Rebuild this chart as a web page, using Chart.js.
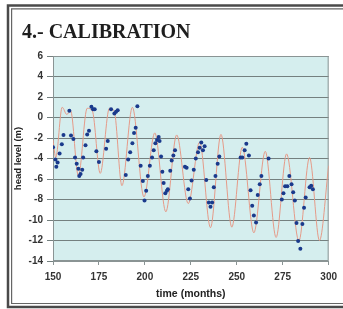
<!DOCTYPE html>
<html>
<head>
<meta charset="utf-8">
<script src="https://cdn.jsdelivr.net/npm/chart.js@4/dist/chart.umd.min.js"></script>
<style>
  html, body { margin: 0; padding: 0; background: #fff; }
  #wrap { width: 343px; height: 309px; position: relative; }
</style>
</head>
<body>
<div id="wrap"><canvas id="calChart"></canvas></div>
<script>
// simulated head (model line)
const modelMonths = [150, 151.5, 155, 157.5, 159.6, 163.8, 168.6, 171.4, 175.7, 180.7, 183.4, 187.5,
  193.2, 199.5, 205.4, 211.4, 217.3, 223.6, 229.8, 235.7, 241.4, 247.3, 253, 259.3,
  265.5, 271.4, 277.1, 283.8, 289.6, 295, 300];
const modelHead = [-2.2, -3.9, 1.0, 0.3, 0.65, -5.7, 0.9, 0.65, -5.45, 0.9, 0.55, -6.65,
  1.0, -7.75, -1.5, -9.2, -1.7, -8.4, -2.4, -10.75, -1.65, -10.7, -2.9, -11.25,
  -3.3, -11.7, -3.55, -12.05, -3.9, -12.0, -4.7];

// observed head (dots)
const obsMonths = [150, 151.3, 151.8, 152.5, 153.6, 154.8, 155.7, 158.9, 159.8, 161.1, 162, 162.9,
  163.8, 164.3, 165, 165.9, 166.4, 167.7, 168.6, 169.6, 170.9, 171.8, 172.7, 173.6, 175,
  178.9, 179.8, 181.6, 183.4, 184.3, 185.2, 189.6, 190.9, 192, 193.2, 194.1, 195, 195.9,
  197.7, 198.9, 199.8, 200.7, 201.6, 202.7, 203.9, 204.8, 205.7, 206.6, 207.5, 208,
  208.8, 209.5, 210.2, 211.1, 212, 212.5, 213.8, 214.6, 215.5, 216.4, 221.8, 222.7,
  223.6, 224.5, 225.4, 226.6, 227.7, 228.9, 229.8, 230.7, 231.6, 232.5, 233.4, 234.8,
  235.7, 236.6, 237.5, 238.4, 239.6, 240.5, 252.1, 253, 254.3, 255.2, 256.6, 257.5,
  258.4, 259.3, 260.5, 261.4, 262.5, 263.4, 267.3, 274.5, 275.4, 276.3, 277.5, 278.6,
  279.8, 280.7, 281.6, 282.5, 283.4, 284.6, 285.7, 286.6, 287.5, 289.6, 290.5, 291.4];
const obsHead = [-2.9, -4.1, -4.8, -4.4, -3.5, -2.6, -1.7, 0.65, -1.75, -2.1, -3.9, -4.5,
  -5.0, -5.7, -5.5, -5.1, -3.9, -2.7, -1.65, -1.3, 1.05, 0.8, 0.8, -3.3, -4.35,
  -3.05, -2.3, 0.8, 0.4, 0.55, 0.7, -5.6, -4.1, -3.4, -2.5, -1.5, -1.0, 1.1,
  -4.7, -6.2, -8.1, -7.15, -5.7, -4.7, -3.9, -3.2, -2.5, -2.2, -1.9, -2.3,
  -3.8, -5.3, -6.4, -7.4, -7.15, -7.0, -5.2, -4.2, -3.7, -3.2, -4.8, -4.9,
  -7.0, -7.9, -6.15, -5.1, -4.0, -3.4, -2.95, -2.45, -3.2, -2.8, -6.1, -8.3,
  -8.7, -8.3, -6.8, -5.7, -4.5, -3.8, -3.9, -3.9, -3.2, -2.55, -3.7, -7.1,
  -8.6, -9.55, -10.25, -7.55, -6.5, -5.7, -4.0, -8.0, -7.4, -6.7, -6.7, -5.7,
  -6.5, -7.3, -8.1, -10.3, -12.05, -12.8, -10.4, -8.8, -7.8, -6.8, -6.65, -7.0];

const xMin = 150, xMax = 300, xStep = 25;
const yMin = -14, yMax = 6, yStep = 2;

const tickFont = { family: 'Liberation Sans', size: 10, weight: 'bold' };

const framePlugin = {
  id: 'frame',
  beforeDraw(chart) {
    const ctx = chart.ctx;
    const a = chart.chartArea;
    ctx.save();
    ctx.fillStyle = '#ffffff';
    ctx.fillRect(0, 0, chart.width, chart.height);
    // outer border
    ctx.strokeStyle = '#4a4a4a';
    ctx.lineWidth = 2.5;
    ctx.beginPath();
    ctx.moveTo(343, 5.5); ctx.lineTo(8, 5.5); ctx.lineTo(8, 307); ctx.lineTo(343, 307);
    ctx.stroke();
    // inner border
    ctx.strokeStyle = '#666';
    ctx.lineWidth = 1.2;
    ctx.beginPath();
    ctx.moveTo(343, 8.8); ctx.lineTo(11.6, 8.8); ctx.lineTo(11.6, 303.5); ctx.lineTo(343, 303.5);
    ctx.stroke();
    // plot background
    ctx.fillStyle = '#d5eeee';
    ctx.fillRect(a.left, a.top, a.right - a.left, a.bottom - a.top);
    // heading
    ctx.fillStyle = '#1e1e1e';
    ctx.font = 'bold 20px "Liberation Serif"';
    ctx.textBaseline = 'middle';
    ctx.fillText('4.- CALIBRATION', 22, 33);
    ctx.restore();
  },
  beforeDatasetsDraw(chart) {
    const ctx = chart.ctx;
    const a = chart.chartArea;
    ctx.save();
    ctx.strokeStyle = '#8a9494';
    ctx.lineWidth = 1;
    ctx.strokeRect(a.left + 0.5, a.top + 0.5, a.right - a.left - 1, a.bottom - a.top - 1);
    ctx.restore();
  }
};

const obsData = obsMonths.map((m, i) => ({ x: m, y: obsHead[i] }));
const modelData = modelMonths.map((m, i) => ({ x: m, y: modelHead[i] }));

new Chart(document.getElementById('calChart'), {
  type: 'scatter',
  data: {
    datasets: [
      {
        label: 'observed',
        data: obsData,
        pointRadius: 2,
        pointBackgroundColor: '#1a3a8c',
        pointBorderColor: '#1a3a8c',
        pointBorderWidth: 0,
        showLine: false
      },
      {
        label: 'simulated',
        data: modelData,
        showLine: true,
        borderColor: '#e59a88',
        borderWidth: 1,
        pointRadius: 0,
        cubicInterpolationMode: 'monotone'
      }
    ]
  },
  options: {
    responsive: true,
    maintainAspectRatio: false,
    animation: false,
    layout: { padding: { left: 8, right: 11, top: 56, bottom: 8 } },
    plugins: {
      legend: { display: false },
      tooltip: { enabled: false }
    },
    scales: {
      x: {
        type: 'linear',
        min: xMin, max: xMax,
        afterFit(scale) { scale.height = 40; },
        ticks: { stepSize: xStep, color: '#333', font: tickFont, padding: 6, maxRotation: 0 },
        grid: { drawOnChartArea: false, color: '#8a9494', tickLength: 4 },
        border: { color: '#8a9494' },
        title: {
          display: true, text: 'time (months)', color: '#222',
          font: { family: 'Liberation Sans', size: 10.5, weight: 'bold' },
          padding: { top: 2, bottom: 1 }
        }
      },
      y: {
        min: yMin, max: yMax,
        afterFit(scale) { scale.width = 45; },
        ticks: { stepSize: yStep, color: '#333', font: tickFont, padding: 4 },
        grid: { color: '#74807f', lineWidth: 1, tickLength: 6 },
        border: { color: '#8a9494' },
        title: {
          display: true, text: 'head level (m)', color: '#222',
          font: { family: 'Liberation Sans', size: 9.5, weight: 'bold' },
          padding: { top: 5, bottom: 2 }
        }
      }
    }
  },
  plugins: [framePlugin]
});
</script>
</body>
</html>
